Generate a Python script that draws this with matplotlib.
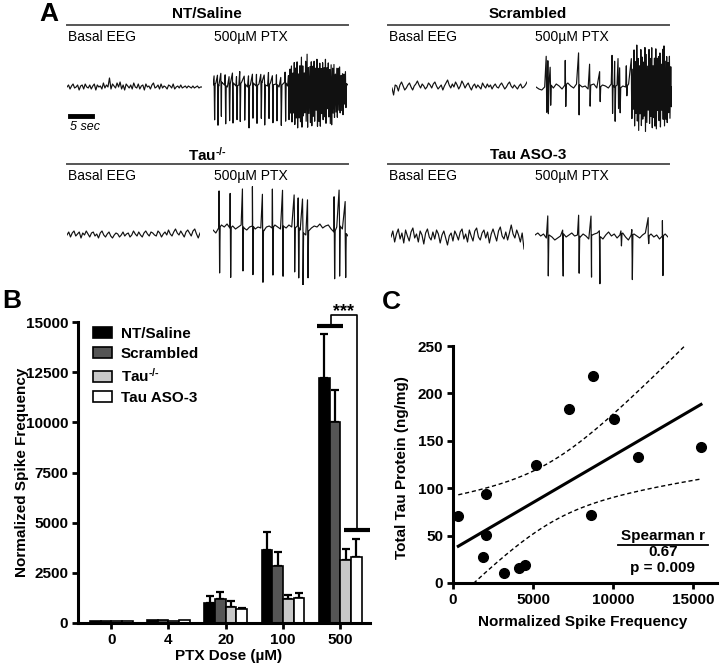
import numpy as np
import matplotlib
matplotlib.use("Agg")
import matplotlib.pyplot as plt

plt.rcParams['font.family'] = ['Liberation Sans', 'DejaVu Sans']
plt.rcParams['mathtext.fontset'] = 'custom'
plt.rcParams['mathtext.rm'] = 'Liberation Sans'
plt.rcParams['mathtext.bf'] = 'Liberation Sans:bold'
plt.rcParams['mathtext.it'] = 'Liberation Sans:italic'

# ---------------- panel A: EEG traces (px offsets, up = positive) ----------------
nt_basal = [0, 2, -2, 1, 3, -1, 0, 2, -3, 1, 2, -2, 3, 0, -1, 2, -2, 1, 3, -3, 2, 0, 1, -2, 4, -1,
            2, 0, 9, -2, 3, 1, -1, 4, 0, 5, -2, 2, -3, 3, 1, -1, 2, -2, 4, 0, -1, 3, -2, 1, 2, -3,
            3, 0, 1, -2, 2, 4, -1, 0, 2, -2, 3, -1, 1, 0, -2, 2, 1, -1, 3, -2, 0, 1, -1, 2, -1, 0,
            1, -1, 1, 0, -1, 1, -1, 0, 1, -1, 0, 0]
sc_basal = [-1, -8, 2, 1, -4, 2, 5, 1, -3, -1, 2, 4, 0, -3, 1, 3, 6, 2, -1, 3, 1, -2, 0, 4, 2, -1,
            3, 5, 1, -2, 0, 2, -3, 1, 4, 7, 2, -1, 3, 0, 5, 2, -2, 1, 6, 3, -1, 2, 4, 0, -3, 1, 3,
            -1, 2, 0, -2, 4, 1, -1, 3, 0, 2, -2, 1, 3, 0, -1, 2, 4, 1, -2, 0, 3, 5, 1, -1, 2, 0,
            -2, 1, 3, -1, 0, 2, 5]
tau_basal = [0, 3, -2, 2, 4, -1, 1, 3, -3, 2, 0, 4, 1, -2, 2, 3, -1, 1, -3, 2, 4, 0, -2, 1, 3, -1,
             -3, 0, 2, 1, -2, 0, 3, -1, 1, 2, -2, 0, 4, 1, -1, 3, 0, -2, 2, 4, 1, -1, 3, 2, 0, -1,
             4, 2, -2, 1, 3, 0, 5, 1, -1, 3, 6, 2, 0, 4, 1, -2, 3, 5, 2, -1, 4, 6, 1, -3, 2]
aso_basal = [0, 6, -5, 3, 8, -2, 4, -6, 7, 1, -4, 5, 9, -1, 3, -5, 6, 2, -7, 4, 8, 0, -3, 5, -2, 7,
             3, -6, 2, 6, -1, -8, 1, 4, -4, 6, 2, -3, 5, 8, -2, 3, -5, 7, 1, -4, 6, 9, 0, -3, 4, 7,
             -1, 5, -6, 3, 8, 2, -4, 6, 10, 1, -2, 5, -3, 4, 12, 3, -1, 7, 2, -5, 4, -12]

nt_ptx_base = [0, 2, -1, 3, 0, -2, 1, 2, -1, 0, 3, 1, -2, 0, 2, -1, 1, 3, 0, -1, 2, 0, 1, -2, 0, 3,
               -1, 2, 0, 1, -3, 2, 0, 4, -2, 1, 3, -3, 2, 0, 5, -4, 3, -2, 4, -3, 2, 0]
nt_spike_pos = [0.012, 0.037, 0.062, 0.094, 0.123, 0.148, 0.178, 0.202, 0.235, 0.267, 0.296, 0.326,
                0.358, 0.383, 0.415, 0.444, 0.474, 0.506, 0.538, 0.563,
                0.575, 0.585, 0.596, 0.606, 0.617, 0.627, 0.638, 0.648, 0.659, 0.669, 0.680, 0.690,
                0.701, 0.711, 0.722, 0.732, 0.743, 0.753, 0.764, 0.774, 0.785, 0.795, 0.806, 0.816,
                0.827, 0.837, 0.848, 0.858, 0.869, 0.879, 0.890, 0.900, 0.911, 0.921, 0.932, 0.942,
                0.953, 0.963, 0.974, 0.985]
nt_spike_up = [8, 10, 9, 11, 8, 10, 9, 12, 8, 10, 9, 11, 8, 10, 12, 9, 10, 8, 11, 9,
               14, 18, 12, 22, 16, 24, 14, 20, 26, 18, 12, 22, 27, 16, 20, 24, 18, 22, 14, 25,
               19, 23, 15, 21, 17, 24, 13, 20, 18, 22, 15, 19, 12, 17, 14, 16, 11, 13, 10, 12]
nt_spike_down = [-36, -40, -34, -38, -36, -40, -34, -38, -36, -42, -35, -38, -36, -40, -34, -38,
                 -36, -40, -38, -35,
                 -30, -38, -28, -40, -34, -42, -30, -36, -44, -32, -28, -38, -46, -30, -36, -40,
                 -32, -38, -28, -42, -34, -40, -30, -36, -32, -40, -28, -34, -36, -38, -30, -34,
                 -26, -32, -28, -30, -24, -28, -20, -24]

sc_ptx_base = [0, -2, -3, 0, 1, 2, -1, 3, 1, -2, 2, 4, 1, -1, 3, 2, 0, 1, -2, 2, 3, -1, 0, 2, 1,
               -1, 3, 0, 2, -1, 1, 0, 3, -2, 1, 2, -1, 0, -3, 2, 0, -4, 3, -2, 4, -3, 1, 0]
sc_spike_pos = [0.079, 0.091, 0.108, 0.219, 0.317, 0.398, 0.472, 0.563, 0.582, 0.607, 0.619, 0.668,
                0.705, 0.715, 0.725, 0.735, 0.745, 0.755, 0.765, 0.775, 0.785, 0.795, 0.805, 0.815,
                0.825, 0.835, 0.845, 0.855, 0.865, 0.875, 0.885, 0.895, 0.905, 0.915, 0.925, 0.935,
                0.945, 0.955, 0.965, 0.975, 0.985, 0.995]
sc_spike_up = [30, 25, 18, 24, 32, 22, 15, 30, 25, 28, 20, 20,
               30, 18, 36, 24, 40, 28, 22, 38, 30, 26, 42, 34, 20, 36, 28, 40, 24, 32, 38, 26,
               30, 36, 22, 34, 40, 28, 32, 24, 30, 20]
sc_spike_down = [-26, -28, -20, -22, -30, -20, -15, -28, -35, -22, -25, -10,
                 -30, -22, -40, -28, -36, -44, -26, -38, -32, -28, -42, -34, -24, -38, -30, -40,
                 -28, -36, -42, -26, -34, -38, -24, -36, -40, -30, -34, -26, -32, -20]

tau_ptx_base = [0, -3, 2, 5, 3, 6, 2, 4, 1, 3, 5, 2, 0, 3, 4, 1, 3, 2, -1, 3, 4, 2, 5, 3, 1, 4, 2,
                5, 3, 2, 4, 0, -3, -5, -1, 2, 4, 3, 6, 2, 4, 5, 1, -2, 3, 4, 1, -3, -6]
tau_spike_pos = [0.049, 0.131, 0.222, 0.296, 0.370, 0.444, 0.519, 0.605, 0.635, 0.667, 0.704,
                 0.901, 0.938, 0.983]
tau_spike_up = [36, 34, 38, 40, 36, 38, 36, 33, 30, 34, 32, 34, 36, 32]
tau_spike_down = [-46, -50, -44, -48, -52, -48, -50, -44, -50, -52, -46, -48, -50, -44]

aso_ptx_base = [2, 4, 1, 3, -1, 2, 0, -3, -1, 1, 3, 0, 2, 4, 1, 2, 0, 3, 1, -2, 2, 3, 4, 0, -2, 2,
                5, 1, 3, -1, 2, 4, 0, -3, 2, 3, 1, -1, 2, 4, 1, 3, 0, 2, -2, 1, 3, 0]
aso_spike_pos = [0.100, 0.212, 0.332, 0.425, 0.488, 0.650, 0.732, 0.855, 0.962]
aso_spike_up = [20, 4, 21, 19, 6, 3, 5, 18, 15]
aso_spike_down = [-40, -42, -37, -42, -47, -12, -45, -8, -40]

# ---------------- panel B ----------------
doses = ['0', '4', '20', '100', '500']
ko_label = 'Tau$^{\\mathbf{\u2010/\u2010}}$'
groups = ['NT/Saline', 'Scrambled', ko_label, 'Tau ASO-3']
nt_mean = [100, 150, 1010, 3635, 12216]
nt_sem = [0, 0, 335, 880, 2175]
sc_mean = [95, 140, 1180, 2850, 10025]
sc_sem = [0, 0, 350, 670, 1610]
tau_mean = [90, 120, 810, 1210, 3140]
tau_sem = [0, 0, 300, 200, 550]
aso_mean = [85, 130, 680, 1245, 3300]
aso_sem = [0, 0, 70, 235, 870]

# ---------------- panel C ----------------
spike_freq = [330, 2050, 2050, 1850, 3180, 4100, 4520, 5210, 7250, 8770, 8600, 10040, 11540, 15500]
tau_protein = [71, 94, 51, 27, 11, 15.5, 19, 124, 184, 218, 72, 173, 133, 143]

W, H = 720, 668
fig = plt.figure(figsize=(W / 100, H / 100), dpi=100)


def px_axes(x0, x1, yc, h=110):
    return fig.add_axes([x0 / W, (H - yc - h / 2) / H, (x1 - x0) / W, h / H])


def ftext(x, y, s, **kw):
    fig.text(x / W, 1 - y / H, s, **kw)


def build_trace(base, pos=(), up=(), down=()):
    xb = np.linspace(0, 1, len(base))
    xs = list(xb)
    ys = list(base)
    for p, u, d in zip(pos, up, down):
        b = np.interp(p, xb, base)
        xs += [p - 0.004, p, p + 0.004]
        ys += [b + u, b + d, b]
    order = np.argsort(xs, kind='stable')
    return np.array(xs)[order], np.array(ys)[order]


traces = [
    ((67, 202, 87), build_trace(nt_basal)),
    ((213, 348, 85), build_trace(nt_ptx_base, nt_spike_pos, nt_spike_up, nt_spike_down)),
    ((392, 527, 87), build_trace(sc_basal)),
    ((536, 672, 87), build_trace(sc_ptx_base, sc_spike_pos, sc_spike_up, sc_spike_down)),
    ((67, 200, 235), build_trace(tau_basal)),
    ((213, 348, 230), build_trace(tau_ptx_base, tau_spike_pos, tau_spike_up, tau_spike_down)),
    ((391, 524, 237), build_trace(aso_basal)),
    ((535, 668, 237), build_trace(aso_ptx_base, aso_spike_pos, aso_spike_up, aso_spike_down)),
]
for (x0, x1, yc), (tx, ty) in traces:
    a = px_axes(x0, x1, yc)
    a.plot(tx, ty, color='#111111', lw=0.85)
    a.set_xlim(0, 1)
    a.set_ylim(-55, 55)
    a.axis('off')

titles = [(207, 14, 'NT/Saline', 67, 348, 25), (528, 14, 'Scrambled', 388, 669, 25),
          (207, 155, ko_label, 67, 348, 164), (528, 155, 'Tau ASO-3', 388, 669, 164)]
line_ax = fig.add_axes([0, 0, 1, 1], zorder=-1)
line_ax.set_xlim(0, W)
line_ax.set_ylim(H, 0)
line_ax.axis('off')
for cx, cy, t, lx0, lx1, ly in titles:
    ftext(cx, cy, t, ha='center', va='center', fontsize=11, fontweight='bold')
    line_ax.plot([lx0, lx1], [ly, ly], color='#555555', lw=1.4)
    ftext(lx0 + 1, ly + 12, 'Basal EEG', ha='left', va='center', fontsize=10)
    ftext(lx0 + 147, ly + 12, '500\u00b5M PTX', ha='left', va='center', fontsize=10)
line_ax.plot([70, 92], [116, 116], color='black', lw=3.5)
ftext(70, 127, '5 sec', ha='left', va='center', fontsize=9, style='italic')
ftext(39, 14, 'A', ha='left', va='center', fontsize=19, fontweight='bold')
ftext(2, 301, 'B', ha='left', va='center', fontsize=19, fontweight='bold')
ftext(382, 302, 'C', ha='left', va='center', fontsize=19, fontweight='bold')

# ---------------- panel B axes ----------------
axb = fig.add_axes([78 / W, (H - 623) / H, 292 / W, 301 / H])
x = np.arange(len(doses))
bw = 0.187
means = [nt_mean, sc_mean, tau_mean, aso_mean]
sems = [nt_sem, sc_sem, tau_sem, aso_sem]
colors = ['black', '#555555', '#c8c8c8', 'white']
for i in range(4):
    xi = x + (i - 1.5) * bw
    axb.bar(xi, means[i], width=bw, color=colors[i], edgecolor='black', lw=1.2,
            label=groups[i], zorder=2)
    m = np.array(means[i])
    s = np.array(sems[i])
    keep = s > 0
    axb.errorbar(xi[keep], m[keep], yerr=[np.zeros(keep.sum()), s[keep]], fmt='none',
                 ecolor='black', elinewidth=1.6, capsize=3, capthick=1.6, zorder=1)
axb.set_xlim(-0.58, 4.52)
axb.set_ylim(0, 15000)
axb.set_xticks(x)
axb.set_xticklabels(doses)
axb.set_yticks(np.arange(0, 15001, 2500))
axb.set_ylabel('Normalized Spike Frequency', fontsize=11, fontweight='bold')
axb.set_xlabel('PTX Dose (\u00b5M)', fontsize=11, fontweight='bold')
axb.yaxis.set_label_coords(-0.168, 0.5)
axb.xaxis.set_label_coords(0.514, -0.088)
# significance bracket
kw = dict(color='black', clip_on=False, solid_capstyle='butt')
axb.plot([3.60, 4.054], [14806, 14806], lw=3, **kw)
axb.plot([3.834, 3.834, 4.298, 4.298], [14806, 15330, 15330, 4630], lw=1.2, **kw)
axb.plot([4.072, 4.52], [4630, 4630], lw=3, **kw)
axb.text(4.054, 15500, '***', ha='center', va='center', fontsize=13, fontweight='bold')
axb.legend(loc='upper left', bbox_to_anchor=(0.015, 1.02), frameon=False,
           prop={'weight': 'bold', 'size': 11}, handlelength=1.25, handleheight=0.75,
           labelspacing=0.4, handletextpad=0.55, borderpad=0.2)

# ---------------- panel C axes ----------------
axc = fig.add_axes([453 / W, (H - 583) / H, 264 / W, 237 / H])
xs = np.array(spike_freq, dtype=float)
ys = np.array(tau_protein, dtype=float)
axc.plot(xs, ys, 'o', color='black', ms=7, zorder=3, clip_on=False)
slope, icpt = np.polyfit(xs, ys, 1)
xx = np.linspace(xs.min(), xs.max(), 200)
yy = slope * xx + icpt
n = len(xs)
resid = ys - (slope * xs + icpt)
s_err = np.sqrt(np.sum(resid ** 2) / (n - 2))
t95 = 2.179
half = t95 * s_err * np.sqrt(1 / n + (xx - xs.mean()) ** 2 / np.sum((xs - xs.mean()) ** 2))
axc.plot(xx, yy, color='black', lw=2.2, zorder=2)
axc.plot(xx, yy + half, '--', color='black', lw=1.0, dashes=(3, 2))
axc.plot(xx, yy - half, '--', color='black', lw=1.0, dashes=(3, 2))
axc.set_xlim(0, 16500)
axc.set_ylim(0, 250)
axc.set_xticks([0, 5000, 10000, 15000])
axc.set_yticks([0, 50, 100, 150, 200, 250])
axc.set_xlabel('Normalized Spike Frequency', fontsize=11, fontweight='bold')
axc.set_ylabel('Total Tau Protein (ng/mg)', fontsize=11, fontweight='bold')
axc.yaxis.set_label_coords(-0.167, 0.489)
axc.xaxis.set_label_coords(0.49, -0.135)
axc.text(0.795, 0.198, 'Spearman r', transform=axc.transAxes, ha='center', va='center',
         fontsize=11, fontweight='bold')
axc.plot([0.625, 0.966], [0.16, 0.16], transform=axc.transAxes, color='black', lw=1.3)
axc.text(0.795, 0.131, '0.67', transform=axc.transAxes, ha='center', va='center',
         fontsize=11, fontweight='bold')
axc.text(0.795, 0.063, 'p = 0.009', transform=axc.transAxes, ha='center', va='center',
         fontsize=11, fontweight='bold')

for ax in (axb, axc):
    for side in ('top', 'right'):
        ax.spines[side].set_visible(False)
    for side in ('left', 'bottom'):
        ax.spines[side].set_linewidth(2.2)
    ax.tick_params(width=2, length=4, labelsize=11, pad=3)
    for lab in ax.get_xticklabels() + ax.get_yticklabels():
        lab.set_fontweight('bold')

fig.savefig('out.png', dpi=100)
